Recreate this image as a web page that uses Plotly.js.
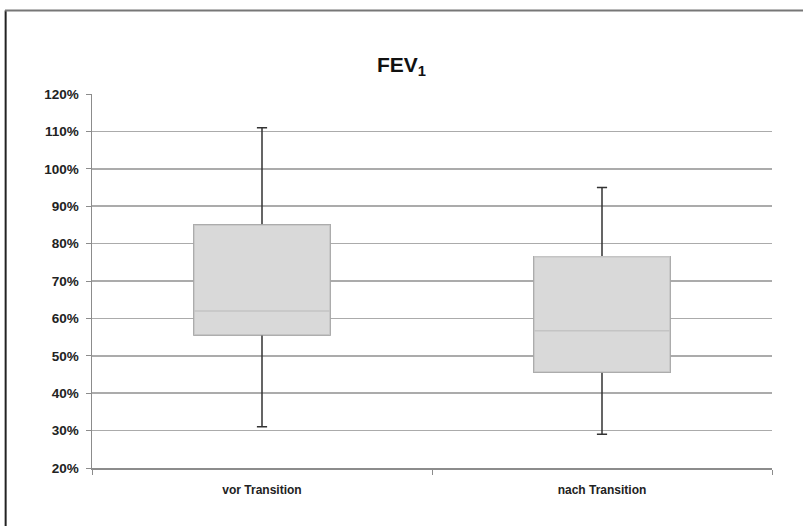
<!DOCTYPE html>
<html>
<head>
<meta charset="utf-8">
<script src="https://cdn.plot.ly/plotly-3.0.1.min.js"></script>
<style>html,body{margin:0;padding:0;background:#fff;}#chart{width:803px;height:526px;}</style>
</head>
<body>
<div id="chart"></div>
<script>
const categories = ['vor Transition', 'nach Transition'];
const lowerWhisker = [0.31, 0.29];
const q1Values = [0.556, 0.457];
const medianValues = [0.62, 0.567];
const q3Values = [0.85, 0.765];
const upperWhisker = [1.11, 0.95];
const yTickValues = [0.2, 0.3, 0.4, 0.5, 0.6, 0.7, 0.8, 0.9, 1.0, 1.1, 1.2];
const yTickLabels = ['20%', '30%', '40%', '50%', '60%', '70%', '80%', '90%', '100%', '110%', '120%'];

const whiskerTrace = {
  type: 'box', x: categories,
  q1: q1Values, median: medianValues, q3: q3Values,
  lowerfence: lowerWhisker, upperfence: upperWhisker,
  width: 0.4, whiskerwidth: 0.075,
  fillcolor: '#d9d9d9', line: {color: '#333333', width: 1.5},
  hoverinfo: 'skip', showlegend: false
};
const boxTrace = {
  type: 'box', x: categories,
  q1: q1Values, median: medianValues, q3: q3Values,
  lowerfence: q1Values, upperfence: q3Values,
  width: 0.4, whiskerwidth: 0,
  fillcolor: '#d9d9d9', line: {color: '#c4c4c4', width: 1.5},
  hoverinfo: 'skip', showlegend: false
};

const layout = {
  width: 803, height: 526,
  margin: {l: 92, r: 31, t: 94, b: 58},
  paper_bgcolor: '#ffffff', plot_bgcolor: '#ffffff',
  font: {family: 'Liberation Sans, Arial, sans-serif', color: '#222'},
  title: {text: '<b>FEV<sub>1</sub></b>', x: 0.5, xanchor: 'center', y: 0.878, yanchor: 'middle',
          font: {size: 21, color: '#111', family: 'Liberation Sans, Arial, sans-serif'}},
  boxmode: 'overlay',
  showlegend: false,
  xaxis: {
    type: 'category', range: [-0.5, 1.5],
    showline: true, linecolor: '#8c8c8c', linewidth: 1.5,
    ticks: 'outside', tickson: 'boundaries', ticklen: 5, tickcolor: '#8c8c8c', tickwidth: 1,
    ticklabelstandoff: 10,
    showgrid: false, zeroline: false,
    tickfont: {size: 12, color: '#222', family: 'Liberation Sans, Arial, sans-serif', weight: 'bold'},
    fixedrange: true
  },
  yaxis: {
    range: [0.2, 1.2], tickvals: yTickValues, ticktext: yTickLabels,
    showline: true, linecolor: '#8c8c8c', linewidth: 1.5,
    ticks: 'outside', ticklen: 5, tickcolor: '#8c8c8c', tickwidth: 1,
    ticklabelstandoff: 4,
    showgrid: true, gridcolor: '#ababab', gridwidth: 1.6, zeroline: false,
    tickfont: {size: 13.5, color: '#222', family: 'Liberation Sans, Arial, sans-serif', weight: 'bold'},
    fixedrange: true
  },
  shapes: [
    {type: 'line', xref: 'paper', yref: 'paper', x0: -0.127, x1: -0.127, y0: -0.2, y1: 1.223,
     line: {color: '#222', width: 2}},
    {type: 'line', xref: 'paper', yref: 'paper', x0: -0.128, x1: 1.1, y0: 1.223, y1: 1.223,
     line: {color: '#777', width: 2}}
  ]
};

Plotly.newPlot('chart', [whiskerTrace, boxTrace], layout, {displayModeBar: false, staticPlot: true});
</script>
</body>
</html>
